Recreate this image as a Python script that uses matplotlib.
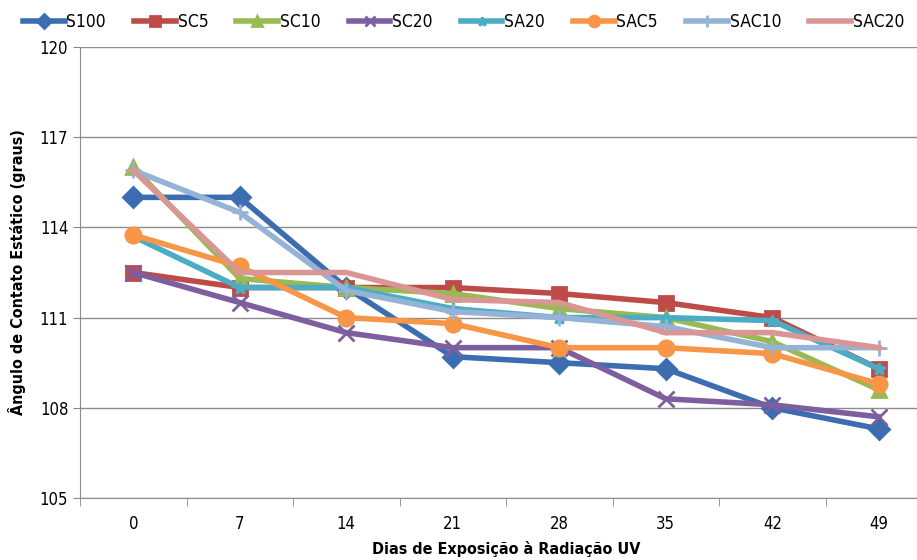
import matplotlib
matplotlib.use('Agg')
import matplotlib.pyplot as plt
import numpy as np

plt.rcParams['font.family'] = ['DejaVu Sans']
plt.rcParams['font.stretch'] = 'condensed'

dias = ['0', '7', '14', '21', '28', '35', '42', '49']

S100 = [115.0, 115.0, 112.0, 109.7, 109.5, 109.3, 108.0, 107.3]
SC5 = [112.5, 112.0, 112.0, 112.0, 111.8, 111.5, 111.0, 109.3]
SC10 = [116.0, 112.3, 112.0, 111.8, 111.3, 111.0, 110.2, 108.6]
SC20 = [112.5, 111.5, 110.5, 110.0, 110.0, 108.3, 108.1, 107.7]
SA20 = [113.7, 112.0, 112.0, 111.3, 111.0, 111.0, 110.9, 109.3]
SAC5 = [113.75, 112.7, 111.0, 110.8, 110.0, 110.0, 109.8, 108.8]
SAC10 = [115.9, 114.5, 111.9, 111.2, 111.0, 110.7, 110.0, 110.0]
SAC20 = [115.9, 112.5, 112.5, 111.6, 111.5, 110.5, 110.5, 110.0]

series = [
    ('S100', S100, '#3C6DB0', 'D', 10),
    ('SC5', SC5, '#BE4B48', 's', 10),
    ('SC10', SC10, '#98B954', '^', 10),
    ('SC20', SC20, '#7D5FA0', 'x', 11),
    ('SA20', SA20, '#4BACC6', '*', 9),
    ('SAC5', SAC5, '#F79646', 'o', 11),
    ('SAC10', SAC10, '#95B3D7', '+', 12),
    ('SAC20', SAC20, '#D99694', '_', 8),
]

fig = plt.figure(figsize=(9.17, 5.6), dpi=100)
ax = fig.add_axes([80/917, 62/560, 852/917, 451/560])

x = np.arange(len(dias))
for nome, vals, cor, mk, ms in series:
    ax.plot(x, vals, color=cor, lw=4, marker=mk, ms=ms, mew=2,
            mec=cor, mfc=cor, label=nome)

ax.set_xlim(-0.5, len(dias) - 0.5)
ax.set_ylim(105, 120)
ax.set_yticks(np.arange(105, 121, 3))
ax.set_xticks(x)
ax.set_xticklabels(dias)
ax.set_xticks(np.arange(-0.5, len(dias)), minor=True)
ax.tick_params(axis='x', which='major', length=0, pad=12, labelsize=12)
ax.tick_params(axis='x', which='minor', length=6, color='#888888')
ax.tick_params(axis='y', length=5, color='#888888', labelsize=12)
ax.grid(axis='y', color='#8c8c8c', lw=1)
ax.set_axisbelow(True)
for s in ['top', 'right']:
    ax.spines[s].set_visible(False)
for s in ['left', 'bottom']:
    ax.spines[s].set_color('#8c8c8c')

ax.set_xlabel('Dias de Exposição à Radiação UV', fontsize=11.5, fontweight='bold', labelpad=6)
ax.set_ylabel('Ângulo de Contato Estático (graus)', fontsize=11.5, fontweight='bold', labelpad=10)

fig.legend(loc='upper left', bbox_to_anchor=(0.008, 0.995, 0.995, 0.01), mode='expand',
           ncol=8, frameon=False, fontsize=12.5, handlelength=2.4,
           handletextpad=0.1, markerscale=0.7)

fig.savefig('out.png', dpi=100)
